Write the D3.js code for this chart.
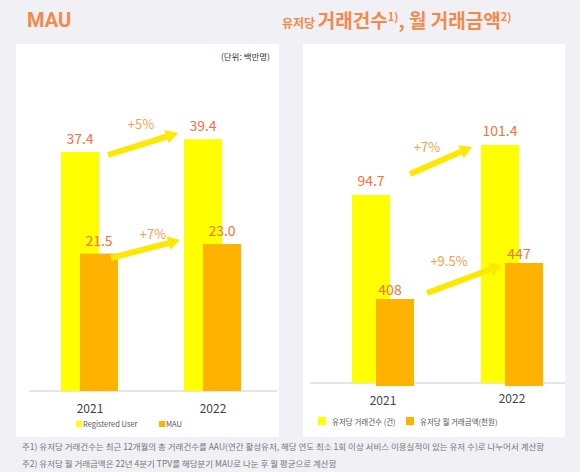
<!DOCTYPE html>
<html><head><meta charset="utf-8">
<script src="https://cdn.jsdelivr.net/npm/d3@7.9.0/dist/d3.min.js"></script>
<style>body{margin:0;background:#f0f0f5;font-family:"Noto Sans CJK KR","Noto Sans",sans-serif}</style>
</head><body><svg id="c" width="580" height="472"></svg>
<script>
const years = ["2021", "2022"];
const registered = [37.4, 39.4];
const mau = [21.5, 23.0];
const txCount = [94.7, 101.4];
const txAmount = [408, 447];
const growthLeft = ["+5%", "+7%"];
const growthRight = ["+7%", "+9.5%"];

const svg = d3.select("#c");
const lab = "#f4733c", grow = "#f7a14c", yel = "#ffff00", org = "#ffb300", arr = "#ffe800";

svg.append("rect").attr("x", 16).attr("y", 44).attr("width", 263).attr("height", 393).attr("fill", "#fff");
svg.append("rect").attr("x", 303).attr("y", 44).attr("width", 262).attr("height", 393).attr("fill", "#fff");

svg.append("text").attr("x", 27).attr("y", 27).attr("fill", "#f5894b").attr("font-size", 20).attr("font-weight", 700)
  .attr("font-family", "Roboto,sans-serif").text("MAU");
const t2 = svg.append("text").attr("x", 282).attr("y", 28).attr("fill", "#f5894b").attr("font-weight", 700);
t2.append("tspan").attr("font-size", 12).text("유저당 ");
t2.append("tspan").attr("font-size", 19).text("거래건수");
t2.append("tspan").attr("font-size", 11).attr("dy", -7).text("1)");
t2.append("tspan").attr("font-size", 19).attr("dy", 7).text(", 월 거래금액");
t2.append("tspan").attr("font-size", 11).attr("dy", -7).text("2)");

svg.append("text").attr("x", 270).attr("y", 60).attr("text-anchor", "end").attr("font-size", 8.5).attr("fill", "#333").text("(단위: 백만명)");

function arrow(x1, y1, x2, y2) {
  const a = Math.atan2(y2 - y1, x2 - x1), h = 12, w = 7;
  const bx = x2 - h * Math.cos(a), by = y2 - h * Math.sin(a);
  svg.append("line").attr("x1", x1).attr("y1", y1).attr("x2", bx).attr("y2", by).attr("stroke", arr).attr("stroke-width", 6);
  svg.append("path").attr("fill", arr).attr("d", `M${x2},${y2}L${bx + w * Math.sin(a)},${by - w * Math.cos(a)}L${bx - w * Math.sin(a)},${by + w * Math.cos(a)}Z`);
}

// left panel
const xL = d3.scaleBand().domain(years).range([40, 264]).paddingInner(0.1).paddingOuter(0.06);
const yL = d3.scaleLinear().domain([0, 37.4]).range([391, 152]);
svg.append("line").attr("x1", 29).attr("x2", 277).attr("y1", 391).attr("y2", 391).attr("stroke", "#ccc");
years.forEach((yr, i) => {
  const x0 = [61, 184][i];
  svg.append("rect").attr("x", x0).attr("width", 38).attr("y", yL(registered[i])).attr("height", 391 - yL(registered[i])).attr("fill", yel);
  svg.append("rect").attr("x", x0 + 19).attr("width", 38).attr("y", yL(mau[i])).attr("height", 391 - yL(mau[i])).attr("fill", org);
  svg.append("text").attr("x", x0 + 19).attr("y", yL(registered[i]) - 8).attr("text-anchor", "middle").attr("fill", lab).attr("font-size", 14).text(registered[i].toFixed(1));
  svg.append("text").attr("x", x0 + 38).attr("y", yL(mau[i]) - 8).attr("text-anchor", "middle").attr("fill", lab).attr("font-size", 14).text(mau[i].toFixed(1));
  svg.append("text").attr("x", x0 + 29).attr("y", 413).attr("text-anchor", "middle").attr("fill", "#444").attr("font-size", 12).text(yr);
});
arrow(108, 155, 178, 133); svg.append("text").attr("x", 141).attr("y", 129).attr("text-anchor", "middle").attr("fill", grow).attr("font-size", 13).text(growthLeft[0]);
arrow(111, 258, 180, 240); svg.append("text").attr("x", 153).attr("y", 239).attr("text-anchor", "middle").attr("fill", grow).attr("font-size", 13).text(growthLeft[1]);
[[76, yel, "Registered User"], [159, org, "MAU"]].forEach(([x, c, t]) => {
  svg.append("rect").attr("x", x).attr("y", 421).attr("width", 6).attr("height", 6).attr("fill", c);
  svg.append("text").attr("x", x + 7).attr("y", 427).attr("font-size", 7.5).attr("fill", "#555").text(t);
});

// right panel
const yR1 = d3.scaleLinear().domain([69.5, 94.7]).range([383, 195]);
const yR2 = d3.scaleLinear().domain([313.7, 408]).range([386, 299]);
svg.append("line").attr("x1", 310).attr("x2", 565).attr("y1", 383).attr("y2", 383).attr("stroke", "#ccc");
years.forEach((yr, i) => {
  const x0 = [352, 481][i];
  svg.append("rect").attr("x", x0).attr("width", 38).attr("y", yR1(txCount[i])).attr("height", 383 - yR1(txCount[i])).attr("fill", yel);
  svg.append("rect").attr("x", x0 + 24).attr("width", 38).attr("y", yR2(txAmount[i])).attr("height", 386 - yR2(txAmount[i])).attr("fill", org);
  svg.append("text").attr("x", x0 + 19).attr("y", yR1(txCount[i]) - 9).attr("text-anchor", "middle").attr("fill", lab).attr("font-size", 14).text(txCount[i].toFixed(1));
  svg.append("text").attr("x", x0 + 38).attr("y", yR2(txAmount[i]) - 4).attr("text-anchor", "middle").attr("fill", lab).attr("font-size", 14).text(txAmount[i]);
  svg.append("text").attr("x", x0 + 31).attr("y", 405 - 2 * i).attr("text-anchor", "middle").attr("fill", "#444").attr("font-size", 12).text(yr);
});
arrow(410, 174, 472, 147); svg.append("text").attr("x", 427).attr("y", 152).attr("text-anchor", "middle").attr("fill", grow).attr("font-size", 13).text(growthRight[0]);
arrow(427, 293, 502, 265); svg.append("text").attr("x", 449).attr("y", 266).attr("text-anchor", "middle").attr("fill", grow).attr("font-size", 13).text(growthRight[1]);
[[318, yel, "유저당 거래건수 (건)"], [406, org, "유저당 월 거래금액(천원)"]].forEach(([x, c, t]) => {
  svg.append("rect").attr("x", x).attr("y", 417).attr("width", 8).attr("height", 8).attr("fill", c);
  svg.append("text").attr("x", x + 14).attr("y", 425).attr("font-size", 7.5).attr("fill", "#555").text(t);
});

svg.append("text").attr("x", 22).attr("y", 450).attr("font-size", 8.5).attr("fill", "#777")
  .text("주1) 유저당 거래건수는  최근 12개월의 총 거래건수를 AAU(연간 활성유저, 해당 연도 최소 1회 이상 서비스 이용실적이 있는 유저 수)로 나누어서 계산함");
svg.append("text").attr("x", 22).attr("y", 467).attr("font-size", 8.5).attr("fill", "#777")
  .text("주2) 유저당 월 거래금액은 22년 4분기 TPV를 해당분기 MAU로 나눈 후 월 평균으로 계산함");
</script></body></html>
